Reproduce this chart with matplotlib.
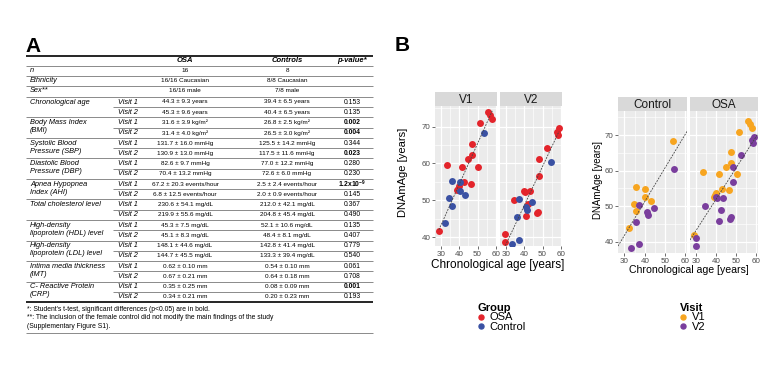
import matplotlib
matplotlib.use("Agg")
import matplotlib.pyplot as plt
from matplotlib.lines import Line2D
import numpy as np

plt.rcParams['font.family'] = ['Liberation Sans', 'DejaVu Sans']
plt.rcParams['mathtext.fontset'] = 'custom'
plt.rcParams['mathtext.rm'] = 'Liberation Sans'
plt.rcParams['mathtext.bf'] = 'Liberation Sans:bold'
plt.rcParams['mathtext.it'] = 'Liberation Sans:italic'

# ---------------- data: table (panel A) ----------------
table_header = ["OSA", "Controls", "p-value*"]
single_rows = [
    ("n", "16", "8"),
    ("Ethnicity", "16/16 Caucasian", "8/8 Caucasian"),
    ("Sex**", "16/16 male", "7/8 male"),
]
paired_labels = [
    ["Chronological age"],
    ["Body Mass Index", "(BMI)"],
    ["Systolic Blood", "Pressure (SBP)"],
    ["Diastolic Blood", "Pressure (DBP)"],
    ["Apnea Hypopnea", "Index (AHI)"],
    ["Total cholesterol level"],
    ["High-density", "lipoprotein (HDL) level"],
    ["High-density", "lipoprotein (LDL) level"],
    ["Intima media thickness", "(IMT)"],
    ["C- Reactive Protein", "(CRP)"],
]
osa_values = [
    ("44.3 ± 9.3 years", "45.3 ± 9.6 years"),
    ("31.6 ± 3.9 kg/m²", "31.4 ± 4.0 kg/m²"),
    ("131.7 ± 16.0 mmHg", "130.9 ± 13.0 mmHg"),
    ("82.6 ± 9.7 mmHg", "70.4 ± 13.2 mmHg"),
    ("67.2 ± 20.3 events/hour", "6.8 ± 12.5 events/hour"),
    ("230.6 ± 54.1 mg/dL", "219.9 ± 55.6 mg/dL"),
    ("45.3 ± 7.5 mg/dL", "45.1 ± 8.3 mg/dL"),
    ("148.1 ± 44.6 mg/dL", "144.7 ± 45.5 mg/dL"),
    ("0.62 ± 0.10 mm", "0.67 ± 0.21 mm"),
    ("0.35 ± 0.25 mm", "0.34 ± 0.21 mm"),
]
control_values = [
    ("39.4 ± 6.5 years", "40.4 ± 6.5 years"),
    ("26.8 ± 2.5 kg/m²", "26.5 ± 3.0 kg/m²"),
    ("125.5 ± 14.2 mmHg", "117.5 ± 11.6 mmHg"),
    ("77.0 ± 12.2 mmHg", "72.6 ± 6.0 mmHg"),
    ("2.5 ± 2.4 events/hour", "2.0 ± 0.9 events/hour"),
    ("212.0 ± 42.1 mg/dL", "204.8 ± 45.4 mg/dL"),
    ("52.1 ± 10.6 mg/dL", "48.4 ± 8.1 mg/dL"),
    ("142.8 ± 41.4 mg/dL", "133.3 ± 39.4 mg/dL"),
    ("0.54 ± 0.10 mm", "0.64 ± 0.18 mm"),
    ("0.08 ± 0.09 mm", "0.20 ± 0.23 mm"),
]
p_values = [
    ("0.153", "0.135"),
    ("0.002", "0.004"),
    ("0.344", "0.023"),
    ("0.280", "0.230"),
    (r"$\mathbf{1.2x10^{-9}}$", "0.145"),
    ("0.367", "0.490"),
    ("0.135", "0.407"),
    ("0.779", "0.540"),
    ("0.061", "0.708"),
    ("0.001", "0.193"),
]
p_bold = [
    (False, False), (True, True), (False, True), (False, False), (True, False),
    (False, False), (False, False), (False, False), (False, False), (True, False),
]
visit_labels = ["Visit 1", "Visit 2"]
footnotes = [
    "*: Student's t-test, significant differences (p<0.05) are in bold.",
    "**: The inclusion of the female control did not modify the main findings of the study",
    "(Supplementary Figure S1).",
]

# ---------------- data: scatter (panel B) ----------------
control_v1_age = [53.7, 35.9, 40.2, 40.2, 43.2, 34.7, 35.9, 32.0]
control_v1_dnam = [68.3, 55.3, 54.9, 52.5, 51.5, 50.6, 48.5, 43.8]
control_v2_age = [54.6, 37.3, 44.4, 41.0, 41.4, 35.9, 37.3, 33.4]
control_v2_dnam = [60.4, 50.4, 49.6, 48.3, 47.5, 45.5, 39.2, 38.2]
osa_v1_age = [55.8, 57.0, 58.0, 51.3, 47.2, 47.2, 45.0, 33.5, 41.3, 50.5,
              42.6, 46.5, 39.7, 39.2, 38.9, 28.9]
osa_v1_dnam = [73.9, 73.1, 72.1, 71.0, 65.3, 62.2, 61.1, 59.5, 59.1, 59.0,
               54.9, 54.5, 53.8, 53.2, 52.7, 41.8]
osa_v2_age = [59.0, 57.7, 58.2, 52.3, 48.2, 48.2, 43.4, 40.5, 34.5, 42.3,
              47.4, 46.9, 41.1, 29.7, 29.7, 40.0]
osa_v2_dnam = [69.5, 68.5, 67.8, 64.3, 61.1, 56.7, 52.4, 52.3, 50.0, 49.0,
               46.8, 46.5, 45.8, 40.9, 38.7, 52.6]

# fitted trend lines (intercept, slope)
visit_fit_intercept = [9.9, 6.2]     # V1, V2
visit_fit_slope = [1.11, 1.06]
group_fit_intercept = [13.3, 16.9]   # Control, OSA
group_fit_slope = [0.95, 0.88]

x_ticks = [30, 40, 50, 60]
y_ticks = [40, 50, 60, 70]

# ---------------- styles ----------------
C_OSA = "#E3242B"
C_CTRL = "#3A51A3"
C_V1 = "#F7A520"
C_V2 = "#7A3E9D"
PANEL_BG = "#EBEBEB"
STRIP_BG = "#D9D9D9"

W, H = 783, 375
fig = plt.figure(figsize=(W / 100, H / 100), dpi=100)

# ============ Panel A: table ============
tab = fig.add_axes([0, 0, 1, 1])
tab.set_xlim(0, W)
tab.set_ylim(H, 0)
tab.axis("off")
tab.set_zorder(-1)

tab.text(25, 52, "A", fontsize=15, fontweight="bold", ha="left", va="baseline")

xl, xr = 26, 373
x_label, x_visit, x_osa, x_ctrl, x_p = 30, 118, 185, 287, 352
x_partial = 113
fs_lab, fs_val = 5.3, 4.6
gray = "#8A8A8A"

def hline(y, x0=xl, x1=xr, color=gray, lw=0.7):
    tab.plot([x0, x1], [y, y], color=color, lw=lw, solid_capstyle="butt")

hline(55.5, color="black", lw=1.2)
y_header = 61
for txt, xx in zip(table_header, [x_osa, x_ctrl, x_p]):
    tab.text(xx, y_header, txt, fontsize=5.5, fontweight="bold", style="italic",
             ha="center", va="center")
ys_single = [71, 81, 91]
prev = y_header
for (lab, v1, v2), yy in zip(single_rows, ys_single):
    hline((prev + yy) / 2)
    tab.text(x_label, yy, lab, fontsize=fs_lab, style="italic", ha="left", va="center")
    tab.text(x_osa, yy, v1, fontsize=fs_val, ha="center", va="center")
    tab.text(x_ctrl, yy, v2, fontsize=fs_val, ha="center", va="center")
    prev = yy

step = 10.26
y0 = 102
for i, labs in enumerate(paired_labels):
    ya = y0 + 2 * i * step
    yb = ya + step
    hline((prev + ya) / 2)
    hline((ya + yb) / 2, x0=x_partial)
    for k, l in enumerate(labs):
        tab.text(x_label, ya + 8.0 * k, l, fontsize=fs_lab, style="italic",
                 ha="left", va="center")
    for j, yy in enumerate([ya, yb]):
        tab.text(x_visit, yy, visit_labels[j], fontsize=fs_lab, style="italic",
                 ha="left", va="center")
        tab.text(x_osa, yy, osa_values[i][j], fontsize=fs_val, ha="center", va="center")
        tab.text(x_ctrl, yy, control_values[i][j], fontsize=fs_val, ha="center", va="center")
        tab.text(x_p, yy, p_values[i][j], fontsize=fs_val + 0.3,
                 fontweight="bold" if p_bold[i][j] else "normal",
                 ha="center", va="center")
    prev = yb

y_end = prev + 5.3
hline(y_end, color="black", lw=1.2)
for k, fn in enumerate(footnotes):
    tab.text(27, y_end + 6.8 + 8.5 * k, fn, fontsize=4.9, ha="left", va="center")
hline(333, color=gray, lw=0.7)

# ============ Panel B ============
tab.text(395, 51, "B", fontsize=15, fontweight="bold", ha="left", va="baseline")

def px_axes(x0, x1, ytop, ybot):
    return fig.add_axes([x0 / W, 1 - ybot / H, (x1 - x0) / W, (ybot - ytop) / H])

def style_panel(ax, xlim, ylim, show_y):
    ax.set_facecolor(PANEL_BG)
    ax.set_xlim(*xlim)
    ax.set_ylim(*ylim)
    ax.set_xticks(x_ticks)
    ax.set_yticks(y_ticks)
    ax.set_xticks([35, 45, 55], minor=True)
    ax.set_yticks([45, 55, 65, 75], minor=True)
    ax.grid(True, which="major", color="white", lw=0.9)
    ax.grid(True, which="minor", color="white", lw=0.45)
    ax.set_axisbelow(True)
    for s in ax.spines.values():
        s.set_visible(False)
    ax.tick_params(which="major", length=2, width=0.5, color="#333333",
                   labelsize=5.8, labelcolor="#4D4D4D", pad=1.3)
    ax.tick_params(which="minor", length=0)
    if not show_y:
        ax.tick_params(axis="y", which="major", length=0, labelleft=False)

def strip(x0, x1, ytop, ybot, label):
    s = px_axes(x0, x1, ytop, ybot)
    s.set_facecolor(STRIP_BG)
    s.set_xticks([]); s.set_yticks([])
    for sp in s.spines.values():
        sp.set_visible(False)
    s.text(0.5, 0.45, label, transform=s.transAxes, ha="center", va="center",
           fontsize=8.5, color="#1A1A1A")

MS = 25
dash = (0, (2.2, 1.4))

# left chart: facets by visit, colour by group
xlim_l = (26.8, 60.6)
ylim_l = (37.6, 75.6)
LT, LB = 106, 246
left_panels = [
    (435, 497, "V1", osa_v1_age, osa_v1_dnam, control_v1_age, control_v1_dnam, True),
    (500, 562, "V2", osa_v2_age, osa_v2_dnam, control_v2_age, control_v2_dnam, False),
]
for idx, (x0, x1, lab, oa, od, ca, cd, showy) in enumerate(left_panels):
    ax = px_axes(x0, x1, LT, LB)
    style_panel(ax, xlim_l, ylim_l, showy)
    ax.scatter(oa, od, s=MS, color=C_OSA, lw=0, zorder=3)
    ax.scatter(ca, cd, s=MS, color=C_CTRL, lw=0, zorder=3)
    allx = np.array(oa + ca)
    xs = np.array([allx.min(), allx.max()])
    ax.plot(xs, visit_fit_intercept[idx] + visit_fit_slope[idx] * xs,
            color="#444444", lw=0.6, ls=dash, zorder=4)
    strip(x0, x1, LT - 14, LT, lab)

fig.text(403 / W, 1 - 172 / H, "DNAmAge [years]", rotation=90, ha="center",
         va="center", fontsize=8)
fig.text(498 / W, 1 - 265 / H, "Chronological age [years]", ha="center",
         va="center", fontsize=8.5)

# right chart: facets by group, colour by visit
xlim_r = (26.8, 60.8)
ylim_r = (36.8, 76.8)
RT, RB = 111, 253
right_panels = [
    (618, 687, "Control", control_v1_age, control_v1_dnam, control_v2_age, control_v2_dnam, True),
    (690, 758, "OSA", osa_v1_age, osa_v1_dnam, osa_v2_age, osa_v2_dnam, False),
]
for idx, (x0, x1, lab, a1, d1, a2, d2, showy) in enumerate(right_panels):
    ax = px_axes(x0, x1, RT, RB)
    style_panel(ax, xlim_r, ylim_r, showy)
    ax.scatter(a1, d1, s=MS, color=C_V1, lw=0, zorder=3)
    ax.scatter(a2, d2, s=MS, color=C_V2, lw=0, zorder=3)
    xs = np.array(xlim_r)
    ax.plot(xs, group_fit_intercept[idx] + group_fit_slope[idx] * xs,
            color="#444444", lw=0.6, ls=dash, zorder=4)
    strip(x0, x1, RT - 14, RT, lab)

fig.text(598 / W, 1 - 180 / H, "DNAmAge [years]", rotation=90, ha="center",
         va="center", fontsize=7)
fig.text(689 / W, 1 - 270 / H, "Chronological age [years]", ha="center",
         va="center", fontsize=7.6)

# legends
def make_legend(title, labels, colors, x, y):
    handles = [Line2D([], [], marker="o", ls="", color=c, markersize=3.6) for c in colors]
    leg = fig.legend(handles, labels, title=title, loc="upper left",
                     bbox_to_anchor=(x / W, 1 - y / H), frameon=False, fontsize=8,
                     title_fontproperties={"weight": "bold", "size": 8},
                     handlelength=0.6, handletextpad=0.45, labelspacing=-0.05,
                     borderpad=0, borderaxespad=0, alignment="left")
    return leg

make_legend("Group", ["OSA", "Control"], [C_OSA, C_CTRL], 478, 303)
make_legend("Visit", ["V1", "V2"], [C_V1, C_V2], 680, 303)

fig.savefig("out.png", dpi=100)
